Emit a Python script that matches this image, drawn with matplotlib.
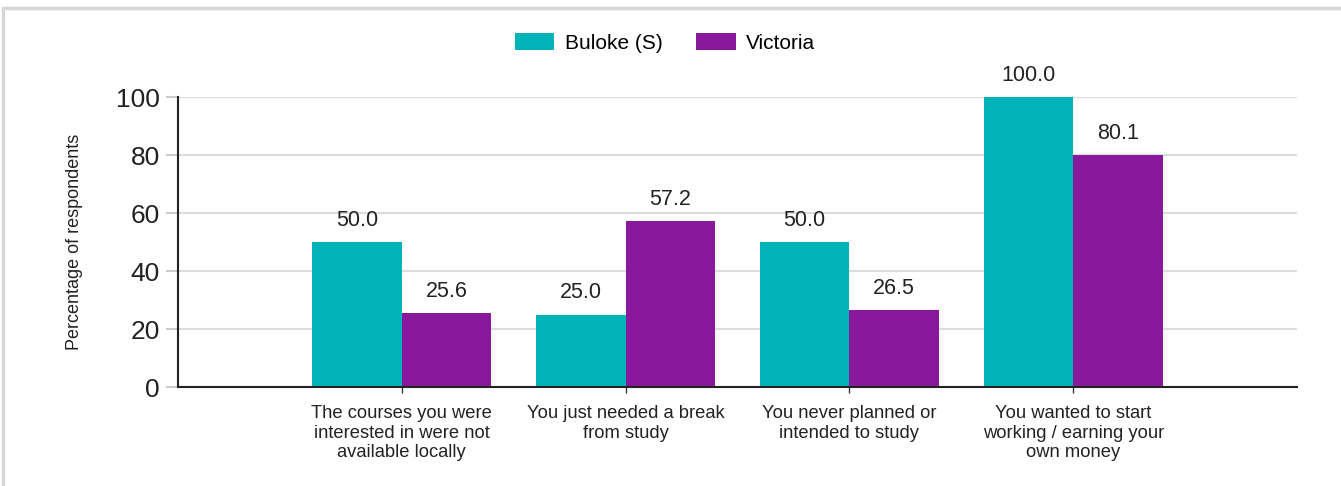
import matplotlib.pyplot as plt
import numpy as np
from matplotlib.patches import Rectangle

plt.rcParams['font.family'] = ['Liberation Sans', 'DejaVu Sans']

categories = ['The courses you were\ninterested in were not\navailable locally',
              'You just needed a break\nfrom study',
              'You never planned or\nintended to study',
              'You wanted to start\nworking / earning your\nown money']
buloke = [50.0, 25.0, 50.0, 100.0]
victoria = [25.6, 57.2, 26.5, 80.1]

teal = '#00b3b8'
purple = '#88199d'

fig = plt.figure(figsize=(13.41, 4.86), dpi=100)
ax = fig.add_axes([178/1341, 1-387/486, (1297-178)/1341, (387-97)/486])

x = np.arange(1, len(categories) + 1)
w = 0.4
b1 = ax.bar(x - w/2, buloke, w, color=teal, label='Buloke (S)', zorder=2)
b2 = ax.bar(x + w/2, victoria, w, color=purple, label='Victoria', zorder=2)

for bars in (b1, b2):
    for r in bars:
        ax.annotate(f'{r.get_height():.1f}', (r.get_x() + r.get_width()/2, r.get_height()),
                    xytext=(0, 8), textcoords='offset points', ha='center', va='bottom',
                    fontsize=15.5, color='#222222')

ax.set_xlim(0, 5)
ax.set_ylim(0, 100)
ax.set_yticks([0, 20, 40, 60, 80, 100])
ax.tick_params(axis='y', labelsize=19, length=9, width=1.5, color='#cccccc', pad=4, labelcolor='#222222')
ax.set_xticks(list(x))
ax.set_xticklabels(categories, fontsize=13.2, color='#222222', linespacing=1.2)
ax.tick_params(axis='x', length=4, width=1, color='#333333', pad=9)
ax.grid(axis='y', color='#dcdcdc', linewidth=1.5, zorder=0)
for s in ['top', 'right']:
    ax.spines[s].set_visible(False)
for s in ['left', 'bottom']:
    ax.spines[s].set_color('#222222')
    ax.spines[s].set_linewidth(1.5)
ax.set_ylabel('Percentage of respondents', fontsize=13, color='#222222', labelpad=24)

fig.legend(handles=[b1, b2], loc='center', bbox_to_anchor=(665/1341, 1-43/486), ncol=2,
           frameon=False, fontsize=15, handlelength=1.9, handleheight=0.9, columnspacing=1.6,
           handletextpad=0.5)

fig.patches.append(Rectangle((3/1341, -0.1), 1.1, 1.1 - 8/486, transform=fig.transFigure,
                             fill=False, edgecolor='#d6d6d6', linewidth=2.5, zorder=0))

fig.savefig('out.png', dpi=100)
